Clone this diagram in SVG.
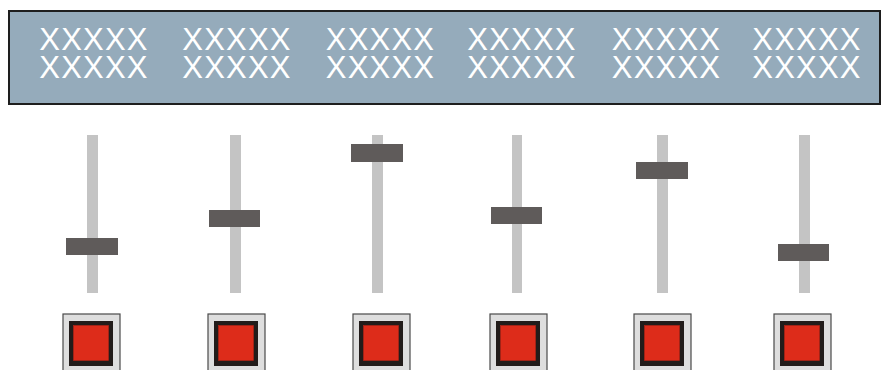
<svg xmlns="http://www.w3.org/2000/svg" width="882" height="370" viewBox="0 0 882 370">
<style>
.panel{fill:#95abbb;stroke:#1e1e1e;stroke-width:2}
.lbl{font-family:"Liberation Sans",Arial,sans-serif;font-size:31px;fill:#ffffff;text-anchor:middle;letter-spacing:1.2px}
.track{fill:#c4c4c4}
.knob{fill:#5f5b5a}
.btn-outer{fill:#dedede;stroke:#4a4a4a;stroke-width:1.2}
.btn-mid{fill:#221c1a}
.btn-red{fill:#dd2c1a;stroke:#b82414;stroke-width:0.6}
</style>
<g id="panel">
<rect class="panel" x="9" y="11" width="871" height="93"/>
</g>
<g id="labels">
<text class="lbl" x="94" y="50">XXXXX<tspan x="94" y="78">XXXXX</tspan></text>
<text class="lbl" x="237" y="50">XXXXX<tspan x="237" y="78">XXXXX</tspan></text>
<text class="lbl" x="380.5" y="50">XXXXX<tspan x="380.5" y="78">XXXXX</tspan></text>
<text class="lbl" x="522" y="50">XXXXX<tspan x="522" y="78">XXXXX</tspan></text>
<text class="lbl" x="666.5" y="50">XXXXX<tspan x="666.5" y="78">XXXXX</tspan></text>
<text class="lbl" x="807" y="50">XXXXX<tspan x="807" y="78">XXXXX</tspan></text>
</g>
<g id="slider1"><rect class="track" x="87" y="135" width="11" height="158"/><rect class="knob" x="66" y="238" width="52" height="17"/></g>
<g id="slider2"><rect class="track" x="230" y="135" width="11" height="158"/><rect class="knob" x="209" y="210" width="51" height="17"/></g>
<g id="slider3"><rect class="track" x="372" y="135" width="11" height="158"/><rect class="knob" x="351" y="144" width="52" height="18"/></g>
<g id="slider4"><rect class="track" x="512" y="135" width="10" height="158"/><rect class="knob" x="491" y="207" width="51" height="17"/></g>
<g id="slider5"><rect class="track" x="657" y="135" width="11" height="158"/><rect class="knob" x="636" y="162" width="52" height="17"/></g>
<g id="slider6"><rect class="track" x="799" y="135" width="11" height="158"/><rect class="knob" x="778" y="244" width="51" height="17"/></g>
<g id="button1"><rect class="btn-outer" x="63" y="314" width="57" height="62"/><rect class="btn-mid" x="69" y="321" width="44" height="45"/><rect class="btn-red" x="73.5" y="325.5" width="35" height="35"/></g>
<g id="button2"><rect class="btn-outer" x="208" y="314" width="57" height="62"/><rect class="btn-mid" x="214" y="321" width="44" height="45"/><rect class="btn-red" x="218.5" y="325.5" width="35" height="35"/></g>
<g id="button3"><rect class="btn-outer" x="353" y="314" width="57" height="62"/><rect class="btn-mid" x="359" y="321" width="44" height="45"/><rect class="btn-red" x="363.5" y="325.5" width="35" height="35"/></g>
<g id="button4"><rect class="btn-outer" x="490" y="314" width="57" height="62"/><rect class="btn-mid" x="496" y="321" width="44" height="45"/><rect class="btn-red" x="500.5" y="325.5" width="35" height="35"/></g>
<g id="button5"><rect class="btn-outer" x="634" y="314" width="57" height="62"/><rect class="btn-mid" x="640" y="321" width="44" height="45"/><rect class="btn-red" x="644.5" y="325.5" width="35" height="35"/></g>
<g id="button6"><rect class="btn-outer" x="774" y="314" width="57" height="62"/><rect class="btn-mid" x="780" y="321" width="44" height="45"/><rect class="btn-red" x="784.5" y="325.5" width="35" height="35"/></g>
<g id="connectors"></g>
</svg>
